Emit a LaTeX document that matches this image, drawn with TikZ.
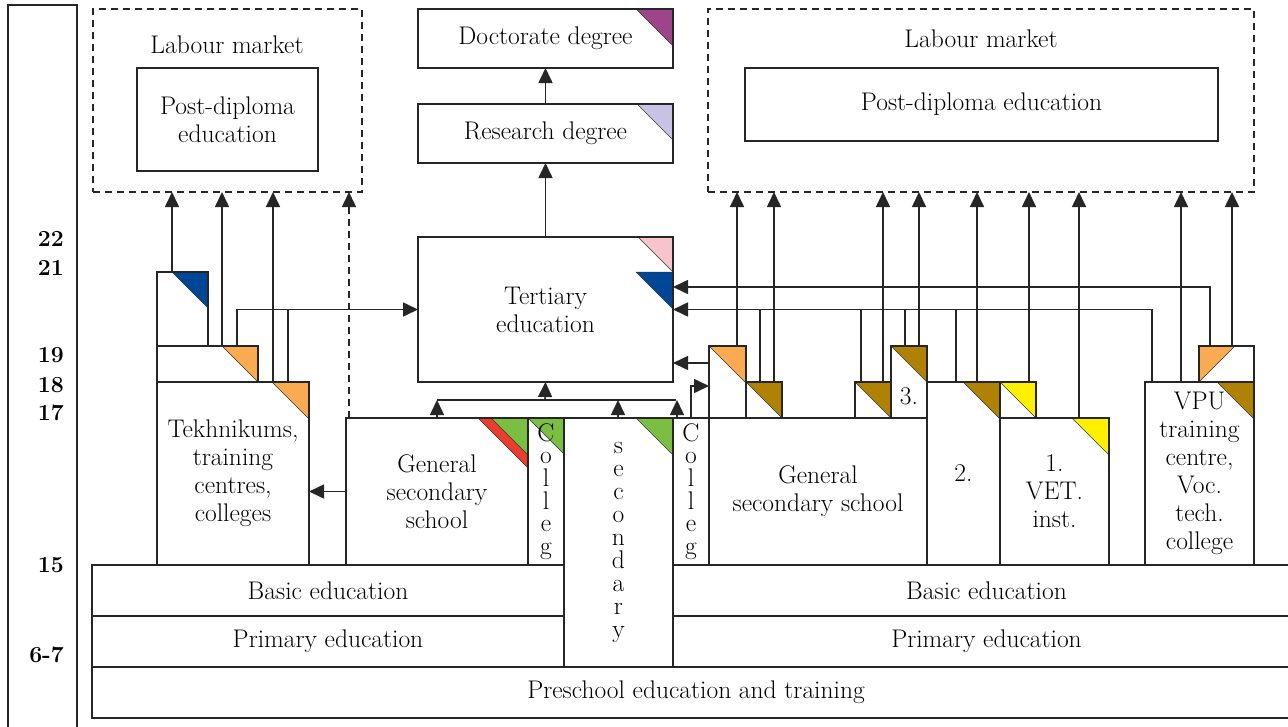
\documentclass[tikz,border=0pt]{standalone}
\usepackage{fontspec}
\usetikzlibrary{arrows.meta,calc}
\pgfdeclarelayer{background}
\pgfsetlayers{background,main}
\definecolor{cpurple}{RGB}{158,68,138}
\definecolor{clav}{RGB}{200,195,228}
\definecolor{cpink}{RGB}{246,196,202}
\definecolor{cblue}{RGB}{0,70,150}
\definecolor{corange}{RGB}{250,170,80}
\definecolor{cbrown}{RGB}{175,130,5}
\definecolor{cyellow}{RGB}{255,240,0}
\definecolor{cgreen}{RGB}{122,190,66}
\definecolor{cred}{RGB}{235,60,45}
\tikzset{
 box/.style={draw=black!85, line width=1.6pt, inner sep=0pt, outer sep=0pt, align=center, font=\fontsize{25.5}{28}\selectfont},
 txt/.style={inner sep=0pt, align=center, font=\fontsize{25.5}{28}\selectfont},
 agel/.style={inner sep=0pt, anchor=east, font=\fontsize{23}{26}\selectfont\bfseries},
 ln/.style={line width=1.6pt, draw=black!85},
 arr/.style={ln, -{Triangle[length=15pt,width=14pt]}},
 dsh/.style={dash pattern=on 7pt off 5pt},
 tri/.style={draw=black!80, line width=0.5pt},
 vcol/.style={font=\fontsize{25.5}{22.6}\selectfont},
 vsec/.style={font=\fontsize{25.5}{23}\selectfont},
}
\newcommand\mkbox[7][]{\node[box,#1,anchor=north west,minimum width={#5-#3},minimum height={#6-#4}] (#2) at (#3,#4) {#7};}
\newcommand\ctri[4][0]{\filldraw[tri,fill=#3] ([yshift=-#1pt]#2.north east) -- ++(0,#4) -- ++(-#4,-#4) -- cycle;}
\begin{document}
\begin{tikzpicture}[x=1pt,y=-1pt]
\useasboundingbox (0,0) rectangle (1288,726);
% age column
\mkbox{age}{8}{5}{77}{740}{}
\node[agel] (a22) at (64,239) {22};
\node[agel] (a21) at (64,268) {21};
\node[agel] (a19) at (64,355) {19};
\node[agel] (a18) at (64,385) {18};
\node[agel] (a17) at (64,413) {17};
\node[agel] (a15) at (64,565) {15};
\node[agel] (a67) at (64,655) {6-7};
% labour market boxes
\mkbox[dsh]{lmL}{93}{9}{362}{192}{}
\node[txt] (lmLt) at (227,45) {Labour market};
\mkbox{pdL}{137}{68}{318}{171}{Post-diploma\\education}
\mkbox[dsh]{lmR}{708}{9}{1254}{192}{}
\node[txt] (lmRt) at (981,39) {Labour market};
\mkbox{pdR}{745}{68}{1218}{141}{Post-diploma education}
% tertiary column
\mkbox{doc}{418}{9}{673}{68}{Doctorate degree}
\mkbox{res}{418}{104}{673}{163}{Research degree}
\mkbox{tert}{418}{237}{673}{382}{Tertiary\\education}
% left side
\mkbox{tekA}{157}{272}{208}{346}{}
\mkbox{tekB}{157}{346}{258}{382}{}
\mkbox{tekh}{157}{382}{309}{565}{Tekhnikums,\\training\\centres,\\colleges}
\mkbox{gssL}{346}{418}{528}{565}{General\\secondary\\school}
\mkbox[vcol]{colL}{528}{418}{564}{565}{C\\o\\l\\l\\e\\g}
\mkbox[vsec]{sec}{564}{418}{673}{667}{s\\e\\c\\o\\n\\d\\a\\r\\y}
\mkbox[vcol]{colR}{673}{418}{709}{565}{C\\o\\l\\l\\e\\g}
% right side
\mkbox{gssR}{709}{418}{927}{565}{General\\secondary school}
\mkbox{oA}{709}{346}{746}{418}{}
\mkbox{bA}{746}{382}{782}{418}{}
\mkbox{bB}{855}{382}{891}{418}{}
\mkbox{three}{891}{346}{927}{418}{}
\node[txt] (threeT) at (909,396) {3.};
\mkbox{two}{927}{382}{1000}{565}{2.}
\mkbox{yA}{1000}{382}{1036}{418}{}
\mkbox{vet}{1000}{418}{1109}{565}{1.\\VET.\\inst.}
\mkbox{vU}{1199}{346}{1254}{382}{}
\mkbox{vpu}{1145}{382}{1254}{565}{VPU\\training\\centre,\\Voc.\\tech.\\college}
% base levels
\mkbox{basL}{92}{565}{564}{616}{Basic education}
\mkbox{basR}{673}{565}{1300}{616}{Basic education}
\mkbox{primL}{92}{616}{564}{667}{Primary education}
\mkbox{primR}{673}{616}{1300}{667}{Primary education}
\mkbox{pre}{92}{667}{1300}{718}{Preschool education and training}
% coloured corners
\begin{pgfonlayer}{background}
\ctri{doc}{cpurple}{37}
\ctri{res}{clav}{36}
\ctri{tert}{cpink}{35}
\ctri[35]{tert}{cblue}{37}
\ctri{tekA}{cblue}{36}
\ctri{tekB}{corange}{36}
\ctri{tekh}{corange}{37}
\ctri{gssL}{cred}{50}
\ctri{gssL}{cgreen}{37}
\ctri{colL}{cgreen}{36}
\ctri{sec}{cgreen}{37}
\ctri{oA}{corange}{37}
\ctri{bA}{cbrown}{36}
\ctri{bB}{cbrown}{36}
\ctri{three}{cbrown}{36}
\ctri{two}{cbrown}{37}
\ctri{yA}{cyellow}{36}
\ctri{vet}{cyellow}{37}
\ctri{vpu}{cbrown}{37}
\filldraw[tri,fill=corange] (vU.north west) -- ++(36,0) -- ++(-36,36) -- cycle;
\end{pgfonlayer}
% connectors: tertiary column
\draw[arr] (res.north) -- (doc.south);
\draw[arr] (tert.north) -- (res.south);
% connectors: left side
\draw[arr] (172,0 |- tekA.north) -- (172,0 |- lmL.south);
\draw[arr] (222,0 |- tekB.north) -- (222,0 |- lmL.south);
\draw[arr] (273,0 |- tekh.north) -- (273,0 |- lmL.south);
\draw[arr,dsh] (349,0 |- gssL.north) -- (349,0 |- lmL.south);
\draw[arr] (237,0 |- tekB.north) -- (237,0 |- tert.west) -- (tert.west);
\draw[ln] (288,0 |- tekh.north) -- (288,0 |- tert.west);
\draw[arr] (gssL.west) -- (tekh.east |- gssL.west);
% bus into tertiary
\coordinate (bus) at (545,400);
\draw[ln] (437,0 |- bus) -- (676,0 |- bus);
\draw[arr] (437,0 |- gssL.north) -- (437,0 |- bus);
\draw[arr] (618,0 |- sec.north) -- (618,0 |- bus);
\draw[arr] (677,0 |- colR.north) -- (677,0 |- bus);
\draw[arr] (bus) -- (tert.south);
\draw[arr] (691,0 |- colR.north) -- (691,386) -- (oA.west |- 0,386);
\draw[arr] (oA.west |- 0,363) -- (tert.east |- 0,363);
% right side to labour market
\foreach \x/\n in {737/oA,774/bA,883/bB,919/three,977/two,1029/yA,1079/vet,1181/vpu,1232/vU}
  \draw[arr] (\x,0 |- \n.north) -- (\x,0 |- lmR.south);
% right side to tertiary
\draw[arr] (1152,0 |- vpu.north) -- (1152,0 |- tert.east) -- (tert.east);
\foreach \x/\n in {760/bA,861/bB,905/three,956/two}
  \draw[ln] (\x,0 |- \n.north) -- (\x,0 |- tert.east);
\draw[arr] (1210,0 |- vU.north) -- (1210,287) -- (tert.east |- 0,287);
\end{tikzpicture}
\end{document}
